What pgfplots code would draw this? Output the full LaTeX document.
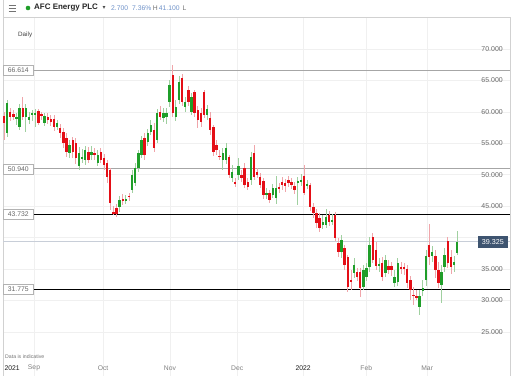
\documentclass[border=0pt]{standalone}
\usepackage{pgfplots}
\pgfplotsset{compat=1.18}
\usepackage{pgfplotstable}
\usepackage{fontspec}
\setmainfont{Liberation Sans}
\newfontfamily\symfont{DejaVu Sans}
\definecolor{candleG}{RGB}{31,158,41}
\definecolor{candleR}{RGB}{228,14,22}
\definecolor{wickG}{RGB}{160,208,160}
\definecolor{wickR}{RGB}{240,165,170}
\definecolor{boxdark}{RGB}{62,84,112}
\definecolor{hdrblue}{RGB}{110,145,200}
\definecolor{lastline}{RGB}{200,206,216}

% k = trading day index, o h l c
\pgfplotstableread{
k o h l c
1 56.64 61.89 56.01 61.41
4 58.87 59.82 57.92 59.19
5 57.60 61.25 57.12 60.62
7 59.19 61.25 56.80 60.62
8 58.71 59.98 58.07 59.19
9 59.51 60.30 58.55 59.82
10 59.66 60.46 57.60 59.82
13 58.23 59.82 57.76 59.35
17 57.60 58.71 57.12 58.23
21 53.46 55.53 52.67 54.74
24 51.40 54.42 50.76 53.46
25 52.67 54.10 51.87 52.83
26 52.35 54.58 51.56 53.94
28 53.15 54.58 52.35 53.62
30 51.87 53.94 51.40 53.15
37 44.88 46.63 44.08 45.99
39 45.99 46.79 45.35 46.15
41 47.58 50.76 47.10 49.97
42 48.69 51.87 48.22 51.08
43 51.08 53.94 50.44 53.46
44 53.15 56.17 52.67 55.53
46 55.21 57.28 54.58 56.64
47 56.80 58.71 56.33 57.92
49 55.53 60.46 55.05 59.82
51 59.03 60.62 58.39 59.82
52 59.19 60.62 58.07 59.82
53 61.57 65.07 60.78 64.28
55 59.19 61.89 58.55 60.78
56 61.89 65.71 61.25 64.75
58 60.78 62.37 59.98 61.57
60 59.98 63.00 59.51 62.37
65 59.51 61.10 58.71 60.46
70 52.35 54.26 50.76 53.46
71 52.35 55.05 51.71 54.26
73 49.49 51.56 48.85 50.44
75 49.97 52.67 49.17 51.40
79 49.17 53.62 48.38 52.83
84 46.79 47.90 46.15 47.10
86 46.79 48.53 46.31 47.90
87 46.31 49.81 45.35 47.90
94 48.69 49.65 45.20 49.01
95 48.85 50.12 48.22 49.17
97 48.38 49.17 47.74 48.53
102 42.02 43.61 41.38 42.49
103 42.02 44.56 41.54 43.29
105 42.49 43.76 42.02 42.81
108 37.72 40.43 36.77 39.63
112 34.38 36.77 33.59 35.66
115 32.16 35.66 31.68 34.86
116 33.75 35.97 33.11 35.18
117 35.34 40.11 34.54 38.84
120 35.50 36.77 34.54 35.81
122 34.38 37.25 33.75 36.45
125 32.79 34.86 32.16 33.75
126 32.95 36.77 32.32 35.97
133 28.98 31.68 27.71 30.73
134 31.52 33.27 30.73 32.00
135 33.27 38.04 32.32 37.09
137 37.09 38.68 36.13 37.72
140 32.48 35.66 29.61 34.54
141 35.34 38.36 34.54 37.25
144 35.66 37.09 34.54 36.13
145 37.56 41.10 37.25 39.325
}\greendata

\pgfplotstableread{
k o h l c
0 59.35 59.98 55.53 58.23
2 59.98 60.62 58.55 59.19
3 59.66 60.30 58.71 59.19
6 60.62 62.37 58.71 59.19
11 60.14 60.46 57.92 58.23
12 59.66 59.98 58.71 59.35
14 59.19 59.82 58.07 58.71
15 58.87 59.51 57.76 58.39
16 58.87 59.51 56.96 57.60
18 57.44 58.07 55.85 56.64
19 56.80 57.44 54.26 55.05
20 55.85 56.64 52.83 53.62
22 55.53 56.01 52.67 53.62
23 55.05 55.85 51.71 52.67
27 53.62 54.42 51.87 52.35
29 53.46 54.26 52.35 53.30
31 53.62 54.26 51.87 52.35
32 52.67 53.30 50.76 51.56
33 51.87 52.35 48.69 49.65
34 50.76 51.08 44.40 45.51
35 44.08 45.04 43.61 43.92
36 44.72 45.35 43.29 43.76
38 46.15 46.94 45.20 45.99
40 46.63 47.10 45.83 46.47
45 55.85 56.64 52.35 53.15
48 57.12 58.23 53.62 54.26
50 59.98 60.94 58.71 59.19
54 65.87 67.45 59.19 59.82
57 65.39 66.02 60.94 61.57
59 63.48 64.12 60.94 61.57
61 63.16 63.48 59.19 59.82
62 60.30 60.94 57.44 58.71
63 59.82 60.62 57.60 58.39
64 63.16 63.48 59.03 59.51
66 59.03 59.98 56.33 57.12
67 57.60 57.92 52.99 53.62
68 54.74 55.53 53.15 53.94
69 52.99 53.94 52.35 52.83
72 52.83 53.15 49.49 49.97
74 48.85 49.49 48.06 48.69
76 49.97 50.76 48.85 49.49
77 51.08 51.87 47.90 48.38
78 48.85 49.49 47.58 48.06
80 53.46 54.74 49.17 49.65
81 50.44 51.08 49.49 49.97
82 49.65 50.28 47.90 48.38
83 49.01 49.49 46.15 46.79
85 47.10 47.58 45.51 45.99
88 48.06 48.69 47.10 47.74
89 48.85 49.65 47.58 48.38
90 48.69 49.33 47.26 48.22
91 49.17 49.81 48.06 48.69
92 48.85 49.49 47.74 48.38
93 48.22 48.85 46.94 47.58
96 49.81 51.56 46.79 47.10
98 48.38 48.69 44.24 44.88
99 44.88 45.51 43.13 43.92
100 43.92 44.56 41.54 42.33
101 43.13 43.92 40.90 41.54
104 43.61 44.24 41.86 42.49
106 43.61 44.08 39.47 39.95
107 39.15 39.95 36.93 37.72
109 38.36 38.84 34.86 35.66
110 36.93 37.25 31.36 32.16
111 33.27 34.86 31.68 32.95
113 34.54 35.18 33.11 33.75
114 34.54 35.18 30.57 32.00
118 40.11 40.74 35.97 36.45
119 38.04 39.31 34.86 35.50
121 35.97 36.93 33.11 33.75
123 35.50 36.45 34.22 34.86
124 35.50 36.13 33.91 34.86
127 35.34 36.13 34.22 35.02
128 35.34 35.97 34.07 35.02
129 35.02 35.66 32.00 32.79
130 33.27 33.91 30.09 31.68
131 30.89 32.16 29.30 30.73
132 30.73 31.68 30.09 30.57
136 38.84 42.17 35.66 36.93
138 37.09 38.04 33.59 34.86
139 34.86 36.13 32.00 32.79
142 39.47 40.11 35.18 35.97
143 36.93 38.04 34.22 35.34
}\reddata

\begin{document}
\begin{tikzpicture}
\path[use as bounding box] (0,0) rectangle (512bp,376bp);
\begin{axis}[
  at={(3bp,0bp)}, anchor=south west,
  scale only axis, width=507bp, height=359bp,
  xmin=-0.32, xmax=161.9, ymin=18.01, ymax=75.09,
  axis line style={draw=black!18},
  major tick length=0pt,
  xtick={9.6,31.7,53.1,74.6,95.7,115.9,135.4},
  xticklabels={Sep,Oct,Nov,Dec,\textcolor{black!90}{2022},Feb,Mar},
  extra x ticks={2.6},
  extra x tick labels={\textcolor{black!90}{2021}},
  extra x tick style={grid=none},
  xticklabel style={font=\fontsize{6.8}{8}\selectfont, text=black!50, anchor=center, yshift=8bp},
  ytick={25,30,35,40,45,50,55,60,65,70},
  yticklabels={25.000,30.000,35.000,{},45.000,50.000,55.000,60.000,65.000,70.000},
  yticklabel pos=right,
  yticklabel style={font=\fontsize{7}{8}\selectfont, text=black!60, anchor=east, xshift=-7bp, inner sep=0pt},
  xmajorgrids, ymajorgrids,
  grid style={draw=black!6, line width=0.7bp},
  clip=false,
]
% level lines
\addplot[draw=black!35, line width=0.9bp] coordinates {(-0.32,66.614) (161.9,66.614)};
\addplot[draw=black!35, line width=0.9bp] coordinates {(-0.32,50.940) (161.9,50.940)};
\addplot[draw=lastline, line width=0.9bp] coordinates {(-0.32,39.325) (161.9,39.325)};
\addplot[draw=black, line width=1.1bp] coordinates {(-0.32,43.732) (161.9,43.732)};
\addplot[draw=black, line width=1.1bp] coordinates {(-0.32,31.775) (161.9,31.775)};
% wicks
\addplot[draw=none, mark=none, error bars/.cd, y dir=both, y explicit, error mark=none,
  error bar style={draw=wickG, line width=0.8bp}]
  table[x=k, y expr={(\thisrow{h}+\thisrow{l})/2}, y error expr={(\thisrow{h}-\thisrow{l})/2}] {\greendata};
\addplot[draw=none, mark=none, error bars/.cd, y dir=both, y explicit, error mark=none,
  error bar style={draw=wickR, line width=0.8bp}]
  table[x=k, y expr={(\thisrow{h}+\thisrow{l})/2}, y error expr={(\thisrow{h}-\thisrow{l})/2}] {\reddata};
% bodies
\addplot[draw=none, mark=none, error bars/.cd, y dir=both, y explicit, error mark=none,
  error bar style={draw=candleG, line width=2.4bp}]
  table[x=k, y expr={(\thisrow{o}+\thisrow{c})/2}, y error expr={max(abs(\thisrow{c}-\thisrow{o})/2,0.15)}] {\greendata};
\addplot[draw=none, mark=none, error bars/.cd, y dir=both, y explicit, error mark=none,
  error bar style={draw=candleR, line width=2.4bp}]
  table[x=k, y expr={(\thisrow{o}+\thisrow{c})/2}, y error expr={max(abs(\thisrow{c}-\thisrow{o})/2,0.15)}] {\reddata};
% price boxes
\foreach \v/\t in {66.614/66.614, 50.940/50.940, 43.732/43.732, 31.775/31.775}{
  \edef\tmp{\noexpand\node[draw=black!30, fill=white, text=black!60, anchor=west, inner sep=0pt,
    minimum width=30bp, minimum height=10bp, font=\noexpand\fontsize{6.8}{8}\noexpand\selectfont]
    at (axis cs:-0.32,\v) {\t};}\tmp
}
\node[fill=boxdark, text=white, anchor=east, inner sep=0pt, minimum width=30bp, minimum height=12bp,
  font=\fontsize{7.2}{8}\selectfont] at (axis cs:161.3,39.325) {39.325};
\end{axis}
% frame pieces and header
\draw[black!18, line width=0.7bp] (3bp,359bp) -- (3bp,376bp);
\draw[black!55, line width=0.8bp] (8.5bp,371bp) -- (15.5bp,371bp) (8.5bp,368bp) -- (15.5bp,368bp) (8.5bp,365bp) -- (15.5bp,365bp);
\fill[candleG] (28bp,368bp) circle (2.3bp);
\node[anchor=west, inner sep=0pt, font=\bfseries\fontsize{8}{9}\selectfont, text=black!85] at (34bp,368bp) {AFC Energy PLC};
\node[inner sep=0pt, font=\symfont\fontsize{6}{7}\selectfont, text=black!70] at (104bp,368bp) {▾};
\node[anchor=west, inner sep=0pt, font=\fontsize{6.8}{8}\selectfont] at (111bp,368bp)
  {\textcolor{hdrblue}{2.700}\hspace{4bp}\textcolor{hdrblue}{7.36\%}\hspace{1.5bp}\textcolor{black!55}{H}\,\textcolor{hdrblue}{41.100}\hspace{3bp}\textcolor{black!55}{L}};
\node[anchor=west, inner sep=0pt, font=\fontsize{6.3}{7}\selectfont, text=black!75] at (18bp,341bp) {Daily};
\node[anchor=west, inner sep=0pt, font=\fontsize{5.2}{6}\selectfont, text=black!55] at (5bp,19bp) {Data is indicative};
\end{tikzpicture}
\end{document}
